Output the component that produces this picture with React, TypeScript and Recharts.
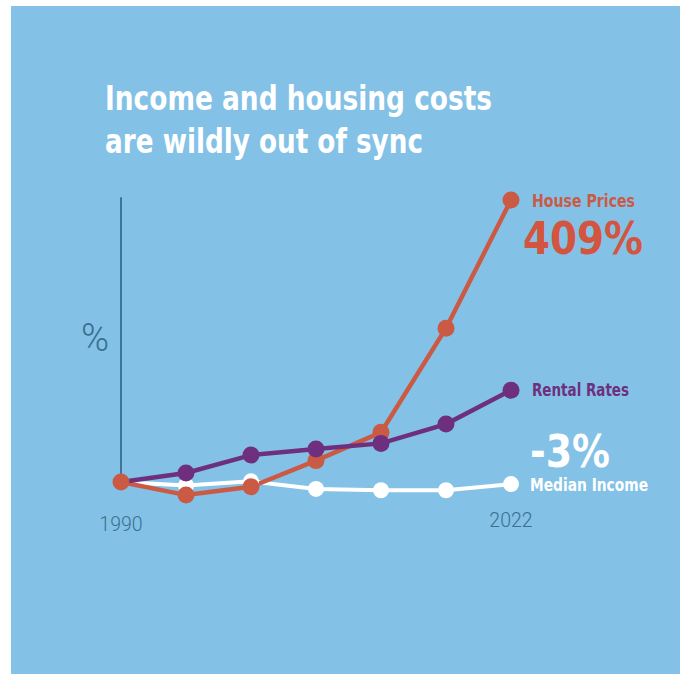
import React from "react";
import { LineChart, Line, XAxis, YAxis, ReferenceLine } from "recharts";

const years = ["1990", "1995", "2000", "2006", "2011", "2016", "2022"];
const housePrices = [0, -19, -7, 31, 72, 223, 409];
const rentalRates = [0, 13, 39, 48, 56, 84, 133];
const medianIncome = [0, -5, 1, -10, -12, -12, -3];
const tickLabels = ["1990", "2022"];

const data = years.map((year, i) => ({
  year,
  house: housePrices[i],
  rent: rentalRates[i],
  income: medianIncome[i],
}));

const BG = "#83C2E6";
const RED = "#CB5A45";
const RED_TEXT = "#D4553F";
const PURPLE = "#6E2F7F";
const AXIS = "#3D7797";
const TICK = "#3A6F8F";
const LAST = years.length - 1;

const CONDENSED = "'Liberation Sans Narrow', 'DejaVu Sans Condensed', 'Roboto', sans-serif";

const Tick = (props: any) => {
  const { x, y, payload } = props;
  const dy = payload.value === "1990" ? 7 : 3;
  return (
    <text
      x={x}
      y={y + dy}
      textAnchor="middle"
      fontFamily="Roboto, sans-serif"
      fontWeight={300}
      fontSize={19.5}
      fill={TICK}
    >
      {payload.value}
    </text>
  );
};

const makeDot = (color: string, skipFirst: boolean, r: number) => (props: any) => {
  const { cx, cy, index } = props;
  if (skipFirst && index === 0) return <g key={`d-${index}`} />;
  return <circle key={`d-${index}`} cx={cx} cy={cy} r={r} fill={color} stroke="none" />;
};

const houseLabel = (props: any) => {
  const { x, y, index } = props;
  if (index !== LAST) return <g key={`l-${index}`} />;
  return (
    <g key={`l-${index}`}>
      <text x={x + 21} y={y + 6.7} fontFamily={CONDENSED} fontWeight={700} fontSize={18} fill={RED} textLength={103} lengthAdjust="spacingAndGlyphs">
        House Prices
      </text>
      <text x={x + 12} y={y + 54} fontFamily={CONDENSED} fontWeight={700} fontSize={44} fill={RED_TEXT} textLength={120} lengthAdjust="spacingAndGlyphs">
        409%
      </text>
    </g>
  );
};

const rentLabel = (props: any) => {
  const { x, y, index } = props;
  if (index !== LAST) return <g key={`l-${index}`} />;
  return (
    <text key={`l-${index}`} x={x + 21} y={y + 5.5} fontFamily={CONDENSED} fontWeight={700} fontSize={17.5} fill={PURPLE} textLength={97} lengthAdjust="spacingAndGlyphs">
      Rental Rates
    </text>
  );
};

const incomeLabel = (props: any) => {
  const { x, y, index } = props;
  if (index !== LAST) return <g key={`l-${index}`} />;
  return (
    <g key={`l-${index}`}>
      <text x={x + 19} y={y - 16.6} fontFamily={CONDENSED} fontWeight={700} fontSize={44} fill="#FFFFFF" textLength={80} lengthAdjust="spacingAndGlyphs">
        -3%
      </text>
      <text x={x + 19} y={y + 7.4} fontFamily={CONDENSED} fontWeight={700} fontSize={17.5} fill="#FFFFFF" textLength={118} lengthAdjust="spacingAndGlyphs">
        Median Income
      </text>
    </g>
  );
};

export default function App() {
  return (
    <div style={{ position: "absolute", left: 0, top: 0, width: 681, height: 674, background: "#FFFFFF", overflow: "hidden" }}>
      <div style={{ position: "absolute", left: 11, top: 6, width: 669, height: 668, background: BG }} />
      <div style={{ position: "absolute", left: 0, top: 0 }}>
        <LineChart
          width={681}
          height={674}
          data={data}
          margin={{ top: 171.73, right: 170, bottom: 127.53, left: 121 }}
        >
          <XAxis
            dataKey="year"
            ticks={tickLabels}
            interval={0}
            axisLine={false}
            tickLine={false}
            height={30}
            tick={<Tick />}
          />
          <YAxis hide domain={[-50, 450]} type="number" allowDataOverflow />
          <ReferenceLine
            segment={[
              { x: "1990", y: 0 },
              { x: "1990", y: 413 },
            ]}
            stroke={AXIS}
            strokeWidth={2}
          />
          <Line
            dataKey="income"
            stroke="#FFFFFF"
            strokeWidth={4}
            dot={makeDot("#FFFFFF", true, 8)}
            activeDot={false}
            label={incomeLabel}
            isAnimationActive={false}
          />
          <Line
            dataKey="house"
            stroke={RED}
            strokeWidth={4.5}
            dot={makeDot(RED, false, 8.5)}
            activeDot={false}
            label={houseLabel}
            isAnimationActive={false}
          />
          <Line
            dataKey="rent"
            stroke={PURPLE}
            strokeWidth={4.5}
            dot={makeDot(PURPLE, true, 8.5)}
            activeDot={false}
            label={rentLabel}
            isAnimationActive={false}
          />
        </LineChart>
      </div>
      <svg style={{ position: "absolute", left: 0, top: 0, pointerEvents: "none" }} width={681} height={674}>
        <text x={105} y={109.5} fontFamily={CONDENSED} fontWeight={700} fontSize={33.5} fill="#FFFFFF" textLength={387} lengthAdjust="spacingAndGlyphs">
          Income and housing costs
        </text>
        <text x={105} y={152.7} fontFamily={CONDENSED} fontWeight={700} fontSize={33.5} fill="#FFFFFF" textLength={318} lengthAdjust="spacingAndGlyphs">
          are wildly out of sync
        </text>
        <text x={81} y={351} fontFamily="Roboto, sans-serif" fontWeight={300} fontSize={38} fill={TICK}>
          %
        </text>
      </svg>
    </div>
  );
}
